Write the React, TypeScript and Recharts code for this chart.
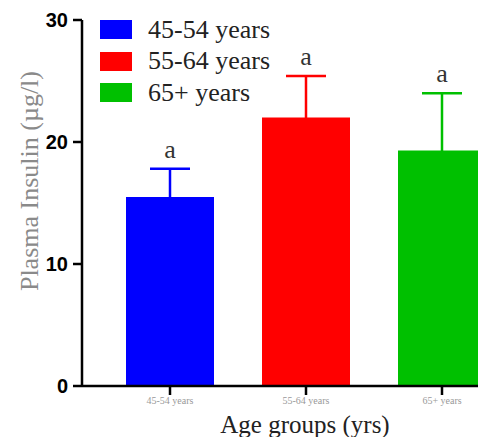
import React from 'react'
import { ComposedChart, Bar, Cell, ErrorBar, Line, LabelList, XAxis, YAxis, Label } from 'recharts'

const groups = ['45-54 years', '55-64 years', '65+ years']
const insulin = [15.5, 22.0, 19.3]
const sem = [2.3, 3.4, 4.7]
const letters = ['a', 'a', 'a']
const colors = ['#0000ff', '#ff0000', '#00c000']
const yTicks = [0, 10, 20, 30]

const data = groups.map((g, i) => ({
  group: g,
  mean: insulin[i],
  top: insulin[i] + sem[i],
  letter: letters[i],
  // one error field per group so each whisker gets its own colour
  [`err${i}`]: sem[i],
}))

const serif = '"Liberation Serif", "Times New Roman", serif'

const LegendBox = () => (
  <div style={{ position: 'absolute', left: 100, top: 14, fontFamily: serif, fontSize: 26, color: '#222' }}>
    {groups.map((g, i) => (
      <div key={g} style={{ display: 'flex', alignItems: 'center', height: 31.5 }}>
        <div style={{ width: 32, height: 19, background: colors[i], marginRight: 16 }} />
        <span style={{ lineHeight: '26px', whiteSpace: 'nowrap' }}>{g}</span>
      </div>
    ))}
  </div>
)

const App = () => {
  return (
    <div style={{ position: 'relative', marginLeft: -8, marginTop: -8, width: 486, height: 437, overflow: 'hidden' }}>
      <ComposedChart width={510} height={437} data={data} margin={{ top: 20, right: 0, left: 0, bottom: 0 }}>
        <XAxis
          dataKey="group"
          height={51}
          interval={0}
          padding={{ left: 20, right: 0 }}
          tick={{ fontSize: 10, fill: '#999' }}
          tickSize={9}
          axisLine={{ stroke: '#000', strokeWidth: 2.5 }}
          tickLine={{ stroke: '#000', strokeWidth: 2.5 }}
        >
          <Label
            content={({ viewBox }: any) => (
              <text x={viewBox.x + viewBox.width / 2 + 9} y={viewBox.y + 47} textAnchor="middle"
                fontFamily={serif} fontSize={25} fill="#222">Age groups (yrs)</text>
            )}
          />
        </XAxis>
        <YAxis
          width={82}
          domain={[0, 30]}
          ticks={yTicks}
          tickSize={9}
          tickMargin={5}
          axisLine={{ stroke: '#000', strokeWidth: 2.5 }}
          tickLine={{ stroke: '#000', strokeWidth: 2.5 }}
          tick={{ fill: '#000', fontFamily: '"Liberation Sans", Arial, sans-serif', fontWeight: 'bold', fontSize: 20 }}
        >
          <Label
            content={({ viewBox }: any) => {
              const cx = viewBox.x + 30
              const cy = viewBox.y + viewBox.height * 0.44
              return (
                <text x={cx} y={cy} transform={`rotate(-90 ${cx} ${cy})`} textAnchor="middle"
                  dominantBaseline="central" fontFamily={serif} fontSize={26} fill="#8a8a8a">
                  Plasma Insulin (µg/l)
                </text>
              )
            }}
          />
        </YAxis>
        <Bar dataKey="mean" barSize={88} isAnimationActive={false}>
          {data.map((d, i) => <Cell key={d.group} fill={colors[i]} />)}
          {groups.map((g, i) => (
            <ErrorBar key={g} dataKey={`err${i}`} width={20} stroke={colors[i]} strokeWidth={2.5} />
          ))}
        </Bar>
        <Line dataKey="top" stroke="none" dot={false} activeDot={false} isAnimationActive={false}>
          <LabelList
            dataKey="letter"
            content={({ x, y, value }: any) => (
              <text x={x} y={y - 11} textAnchor="middle" fontFamily={serif} fontSize={26} fill="#333">{value}</text>
            )}
          />
        </Line>
      </ComposedChart>
      <LegendBox />
    </div>
  )
}

export default App
